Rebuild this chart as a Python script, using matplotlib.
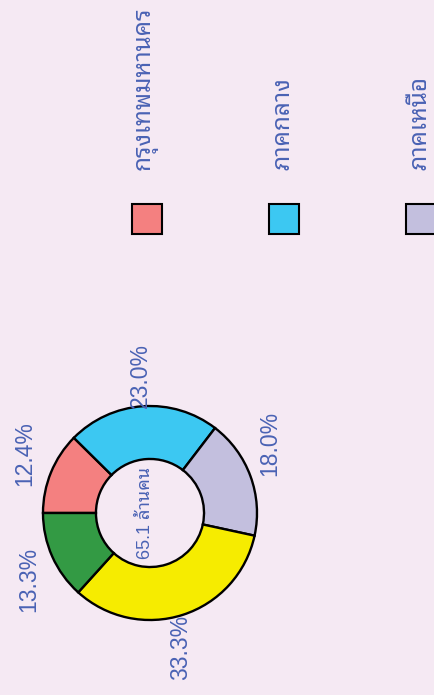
import numpy as np
import matplotlib
matplotlib.use("Agg")
import matplotlib.pyplot as plt
from matplotlib.patches import Rectangle

# population share by region (percent of 65.1 million)
regions = ["กรุงเทพมหานคร", "ภาคกลาง", "ภาคเหนือ", "ภาคตะวันออกเฉียงเหนือ", "ภาคใต้"]
shares = [12.4, 23.0, 18.0, 33.3, 13.3]
colors = ["#f48080", "#3cc8f2", "#c3bfde", "#f6ec00", "#339a44"]
center_label = "65.1 ล้านคน"

bg = "#f5e9f3"
txt = "#4a62b4"
plt.rcParams['font.family'] = ['Liberation Sans', 'Noto Sans Thai Looped',
                               'IBM Plex Sans Thai Looped', 'Noto Sans Thai', 'DejaVu Sans']

W, H = 435, 695
fig = plt.figure(figsize=(W / 100, H / 100), dpi=100, facecolor=bg)

# donut, centre (150, 513) px, radius 107 px
cx, cy, r = 150, 513, 107
ax = fig.add_axes([(cx - r) / W, (H - cy - r) / H, 2 * r / W, 2 * r / H])
ax.pie(shares, colors=colors, startangle=180, counterclock=False, radius=1,
       wedgeprops=dict(width=0.495, edgecolor="black", linewidth=1.7))
ax.set_xlim(-1, 1)
ax.set_ylim(-1, 1)
ax.axis("off")

# percentage labels, whole chart is turned a quarter turn
label_shift = [-3, 0, 10, -5, 5]
total = sum(shares)
cum = np.cumsum([0] + shares[:-1])
for v, c0, d in zip(shares, cum, label_shift):
    mid = np.deg2rad(180 - 360 * (c0 + v / 2) / total + d)
    ax.text(1.29 * np.cos(mid), 1.29 * np.sin(mid), f"{v:.1f}%", rotation=90,
            rotation_mode="anchor", ha="center", va="center",
            fontsize=16.5, color=txt, clip_on=False)

ax.text(-0.04, 0, center_label, rotation=90, rotation_mode="anchor",
        ha="center", va="center", fontsize=13, color=txt)

# legend (only the first three entries fall inside the canvas)
lg = fig.add_axes([0, 0, 1, 1])
lg.set_xlim(0, W)
lg.set_ylim(H, 0)
lg.axis("off")
lg.patch.set_alpha(0)
for i, (name, col) in enumerate(zip(regions[:3], colors[:3])):
    x0 = 132 + i * 137
    lg.add_patch(Rectangle((x0, 204), 30, 30, facecolor=col,
                           edgecolor="black", linewidth=1.5))
    lg.text(x0 + 15, 170, name, rotation=90, rotation_mode="anchor",
            ha="left", va="center", fontsize=17.5, color=txt)

fig.savefig("out.png", dpi=100, facecolor=bg)
